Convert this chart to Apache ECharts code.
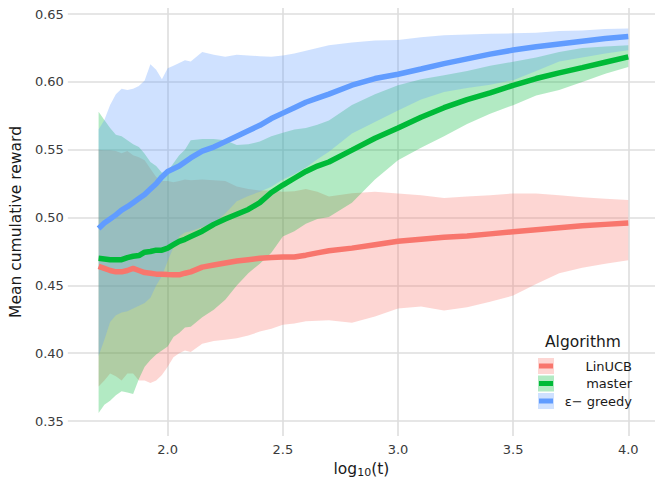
<!DOCTYPE html>
<html>
<head>
<meta charset="utf-8">
<script src="https://cdn.jsdelivr.net/npm/echarts@6/dist/echarts.min.js"></script>
<style>
  html, body { margin: 0; padding: 0; background: #fff; }
  #chart { width: 663px; height: 490px; }
</style>
</head>
<body>
<div id="chart"></div>
<script>
// log10(t) sample positions
var logT = [1.70, 1.725, 1.75, 1.775, 1.80, 1.825, 1.85, 1.875, 1.90, 1.925, 1.95, 1.975, 2.00, 2.025, 2.05, 2.075, 2.10,
  2.15, 2.20, 2.25, 2.30, 2.35, 2.40, 2.45, 2.50, 2.55, 2.60, 2.65, 2.70,
  2.80, 2.90, 3.00, 3.10, 3.20, 3.30, 3.40, 3.50, 3.60, 3.70, 3.80, 3.90, 4.00];

// LinUCB
var linucbMean = [0.464, 0.4625, 0.461, 0.460, 0.460, 0.461, 0.4625, 0.461, 0.4595, 0.459, 0.4583, 0.4583, 0.458, 0.4578, 0.4578, 0.459, 0.460,
  0.4635, 0.465, 0.4665, 0.468, 0.469, 0.470, 0.4705, 0.471, 0.471, 0.4723, 0.474, 0.4755,
  0.4775, 0.480, 0.4825, 0.484, 0.4855, 0.4865, 0.488, 0.4895, 0.491, 0.4925, 0.494, 0.495, 0.496];
var linucbLo = [0.3755, 0.380, 0.385, 0.383, 0.380, 0.385, 0.385, 0.380, 0.380, 0.378, 0.380, 0.384, 0.390, 0.397, 0.400, 0.402, 0.401,
  0.407, 0.409, 0.410, 0.411, 0.413, 0.416, 0.418, 0.421, 0.422, 0.4235, 0.424, 0.4244,
  0.4225, 0.427, 0.433, 0.4345, 0.4315, 0.434, 0.438, 0.4425, 0.451, 0.459, 0.463, 0.466, 0.4686];
var linucbHi = [0.550, 0.5497, 0.5497, 0.549, 0.5475, 0.549, 0.546, 0.5445, 0.5423, 0.536, 0.530, 0.527, 0.527, 0.526, 0.527, 0.528, 0.5276,
  0.528, 0.5276, 0.527, 0.523, 0.521, 0.520, 0.520, 0.519, 0.5195, 0.521, 0.519, 0.5155,
  0.518, 0.519, 0.5178, 0.5165, 0.5145, 0.5155, 0.5165, 0.5178, 0.5178, 0.5165, 0.515, 0.5138, 0.513];

// master
var masterMean = [0.470, 0.4695, 0.469, 0.469, 0.469, 0.4705, 0.4715, 0.472, 0.4745, 0.475, 0.476, 0.476, 0.4775, 0.480, 0.4825, 0.484, 0.486,
  0.490, 0.495, 0.499, 0.5025, 0.506, 0.511, 0.5185, 0.524, 0.529, 0.534, 0.538, 0.541,
  0.5497, 0.5585, 0.566, 0.574, 0.581, 0.587, 0.592, 0.5975, 0.6025, 0.6067, 0.6105, 0.6145, 0.6185];
var masterLo = [0.356, 0.362, 0.365, 0.369, 0.372, 0.371, 0.370, 0.381, 0.390, 0.395, 0.399, 0.402, 0.405, 0.412, 0.415, 0.419, 0.4195,
  0.4265, 0.432, 0.4395, 0.450, 0.459, 0.466, 0.474, 0.486, 0.490, 0.4955, 0.499, 0.5005,
  0.511, 0.528, 0.5423, 0.5515, 0.560, 0.569, 0.5765, 0.5829, 0.590, 0.594, 0.600, 0.606, 0.611];
var masterHi = [0.578, 0.572, 0.566, 0.561, 0.560, 0.557, 0.554, 0.552, 0.547, 0.541, 0.538, 0.533, 0.534, 0.540, 0.546, 0.550, 0.557,
  0.558, 0.558, 0.557, 0.5535, 0.554, 0.556, 0.560, 0.5625, 0.565, 0.566, 0.5685, 0.5715,
  0.583, 0.591, 0.5976, 0.602, 0.605, 0.608, 0.612, 0.6148, 0.618, 0.622, 0.625, 0.6262, 0.627];

// epsilon-greedy
var epsMean = [0.492, 0.496, 0.499, 0.502, 0.5055, 0.508, 0.511, 0.514, 0.517, 0.521, 0.525, 0.530, 0.534, 0.536, 0.538, 0.541, 0.544,
  0.549, 0.552, 0.556, 0.560, 0.564, 0.568, 0.573, 0.577, 0.581, 0.585, 0.588, 0.591,
  0.5976, 0.6025, 0.6057, 0.6095, 0.6135, 0.617, 0.6205, 0.6235, 0.626, 0.628, 0.630, 0.632, 0.6335];
var epsLo = [0.398, 0.410, 0.423, 0.428, 0.430, 0.431, 0.433, 0.435, 0.437, 0.441, 0.450, 0.457, 0.468, 0.478, 0.486, 0.489, 0.490,
  0.493, 0.496, 0.503, 0.512, 0.516, 0.519, 0.5227, 0.528, 0.532, 0.537, 0.543, 0.5485,
  0.562, 0.5705, 0.579, 0.587, 0.5925, 0.5955, 0.598, 0.6013, 0.608, 0.615, 0.618, 0.621, 0.6234];
var epsHi = [0.565, 0.572, 0.583, 0.591, 0.595, 0.594, 0.595, 0.597, 0.601, 0.613, 0.609, 0.602, 0.610, 0.612, 0.614, 0.616, 0.615,
  0.622, 0.620, 0.6185, 0.620, 0.6195, 0.619, 0.6185, 0.6195, 0.621, 0.623, 0.625, 0.627,
  0.629, 0.6305, 0.631, 0.633, 0.6345, 0.635, 0.6355, 0.6358, 0.6363, 0.6375, 0.638, 0.639, 0.6393];

var xTicks = [2.0, 2.5, 3.0, 3.5, 4.0];
var yTicks = [0.35, 0.40, 0.45, 0.50, 0.55, 0.60, 0.65];

var algoNames = ['LinUCB', 'master', 'ε− greedy'];
var algoColors = ['#F8766D', '#00BA38', '#619CFF'];
var algoRgb = ['248,118,109', '0,186,56', '97,156,255'];
var means = [linucbMean, masterMean, epsMean];
var lows = [linucbLo, masterLo, epsLo];
var highs = [linucbHi, masterHi, epsHi];

var FONT = 'DejaVu Sans';

function pairs(xs, ys) {
  return xs.map(function (x, i) { return [x, ys[i]]; });
}

// ribbon polygon: upper edge left->right, lower edge right->left
function ribbonItem(fill) {
  return function (params, api) {
    if (params.dataIndexInside !== 0) return null;
    var n = params.dataInsideLength, pts = [], i;
    for (i = 0; i < n; i++) pts.push(api.coord([api.value(0, i), api.value(2, i)]));
    for (i = n - 1; i >= 0; i--) pts.push(api.coord([api.value(0, i), api.value(1, i)]));
    return { type: 'polygon', shape: { points: pts }, style: { fill: fill } };
  };
}

var series = [];
for (var k = 0; k < 3; k++) {
  var lo = lows[k], hi = highs[k];
  series.push({
    type: 'custom', silent: true, z: 1,
    data: logT.map(function (x, i) { return [x, lo[i], hi[i]]; }),
    encode: { x: 0, y: [1, 2] },
    renderItem: ribbonItem('rgba(' + algoRgb[k] + ',0.3)')
  });
}
for (var k = 0; k < 3; k++) {
  series.push({
    name: algoNames[k], type: 'line', data: pairs(logT, means[k]),
    symbol: 'none', silent: true,
    lineStyle: { color: algoColors[k], width: 5.5 }, z: 3
  });
}

// legend drawn by hand (ggplot style keys)
var graphics = [{
  type: 'text', x: 545, y: 342, z: 100,
  style: { text: 'Algorithm', fontFamily: FONT, fontSize: 15.5, fill: '#1a1a1a', align: 'left', verticalAlign: 'middle' }
}];
var keyTops = [358, 375.5, 393];
for (var k = 0; k < 3; k++) {
  graphics.push({
    type: 'rect', z: 100, shape: { x: 538, y: keyTops[k], width: 16, height: 16 },
    style: { fill: 'rgba(' + algoRgb[k] + ',0.3)' }
  });
  graphics.push({
    type: 'line', z: 101, shape: { x1: 539, y1: keyTops[k] + 8, x2: 553, y2: keyTops[k] + 8 },
    style: { stroke: algoColors[k], lineWidth: 5 }
  });
  graphics.push({
    type: 'text', z: 101, x: 632, y: keyTops[k] + 8,
    style: { text: algoNames[k], fontFamily: FONT, fontSize: 13, fill: '#1a1a1a', align: 'right', verticalAlign: 'middle' }
  });
}

var chart = echarts.init(document.getElementById('chart'), null, { renderer: 'svg' });
chart.setOption({
  animation: false,
  textStyle: { fontFamily: FONT },
  grid: { left: 61, right: 8, top: 8, bottom: 54 },
  xAxis: {
    type: 'value', min: 1.5665, max: 4.116,
    name: '{a|log}{s|10}{a|(t)}', nameLocation: 'middle', nameGap: 22,
    nameTextStyle: {
      rich: {
        a: { fontFamily: FONT, fontSize: 15.5, color: '#1a1a1a' },
        s: { fontFamily: FONT, fontSize: 11, color: '#1a1a1a', padding: [8, 0, 0, 0] }
      }
    },
    axisLine: { show: false },
    axisTick: { show: false, customValues: xTicks },
    axisLabel: {
      customValues: xTicks, margin: 7, fontSize: 13, color: '#3b3b3b',
      formatter: function (v) { return v.toFixed(1); }
    },
    splitLine: { show: true, lineStyle: { color: '#dedede', width: 1.6 } }
  },
  yAxis: {
    type: 'value', min: 0.339, max: 0.6545,
    name: 'Mean cumulative reward', nameLocation: 'middle', nameGap: 38,
    nameTextStyle: { fontFamily: FONT, fontSize: 15.5, color: '#1a1a1a' },
    axisLine: { show: false },
    axisTick: { show: false, customValues: yTicks },
    axisLabel: {
      customValues: yTicks, margin: 4, fontSize: 13, color: '#3b3b3b',
      formatter: function (v) { return v.toFixed(2); }
    },
    splitLine: { show: true, lineStyle: { color: '#dedede', width: 1.6 } }
  },
  series: series,
  graphic: graphics
});
</script>
</body>
</html>
